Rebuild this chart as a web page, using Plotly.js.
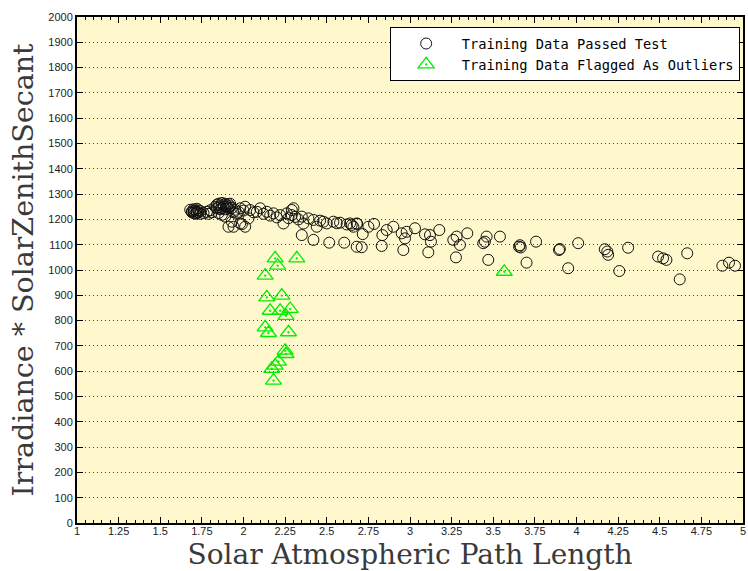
<!DOCTYPE html>
<html>
<head>
<meta charset="utf-8">
<script src="https://cdn.plot.ly/plotly-3.0.1.min.js"></script>
<style>html,body{margin:0;padding:0;background:#fff;}#chart{width:748px;height:571px;}</style>
</head>
<body>
<div id="chart"></div>
<script>
// Training samples that passed the outlier test
const passX = [1.68,1.69,1.69,1.70,1.70,1.70,1.71,1.71,1.72,1.72,1.72,1.73,1.73,1.74,1.74,1.76,1.78,1.79,1.80,1.81,
  1.83,1.84,1.84,1.85,1.85,1.85,1.86,1.86,1.87,1.87,1.87,1.88,1.88,1.89,1.89,1.89,1.90,1.90,1.91,1.91,1.91,1.92,1.92,1.93,1.93,1.94,1.94,
  1.95,1.96,1.97,1.98,1.98,1.99,2.00,2.01,2.01,2.03,2.04,2.06,2.08,2.10,2.12,2.14,2.16,2.18,2.20,2.22,2.24,2.26,2.27,2.29,2.30,2.29,2.31,
  2.33,2.35,2.36,2.35,2.39,2.42,2.42,2.44,2.46,2.48,2.50,2.515,2.54,2.56,2.58,2.605,2.62,2.64,2.65,2.66,2.68,2.683,2.68,2.71,2.716,2.75,
  2.784,2.83,2.834,2.86,2.90,2.95,2.96,2.97,2.98,3.03,3.09,3.11,3.12,3.126,3.176,3.26,3.276,3.28,3.30,3.344,3.44,3.45,3.46,3.47,3.54,
  3.655,3.66,3.665,3.70,3.757,3.895,3.90,3.95,4.01,4.17,4.185,4.19,4.257,4.31,4.49,4.52,4.54,4.62,4.665,4.876,4.916,4.952];
const passY = [1238,1232,1228,1226,1240,1233,1235,1222,1230,1242,1225,1228,1236,1222,1233,1225,1230,1222,1236,1228,
  1250,1258,1245,1262,1248,1225,1255,1240,1265,1244,1218,1258,1250,1262,1240,1211,1255,1248,1260,1243,1171,1252,1262,1245,1191,1228,1171,
  1238,1222,1230,1244,1184,1181,1235,1250,1171,1204,1237,1228,1230,1244,1222,1230,1215,1224,1208,1217,1184,1224,1205,1237,1244,1217,1210,
  1200,1211,1184,1138,1204,1198,1119,1171,1195,1191,1184,1108,1191,1185,1187,1108,1180,1184,1178,1171,1184,1182,1092,1090,1142,1171,
  1182,1095,1138,1158,1171,1145,1079,1125,1151,1165,1141,1070,1138,1112,1158,1119,1050,1132,1099,1145,1106,1112,1132,1040,1132,
  1092,1098,1089,1029,1112,1079,1083,1007,1106,1082,1073,1060,996,1088,1053,1046,1040,963,1066,1017,1029,1017];

// Training samples flagged as outliers
const flagX = [2.19,2.32,2.205,2.13,2.14,2.23,2.16,2.22,2.28,2.255,2.13,2.15,2.27,2.25,2.255,2.21,2.19,2.17,2.18,3.566];
const flagY = [1046,1046,1017,978,892,899,839,839,846,819,773,751,754,681,668,638,622,609,563,993];

const xTickVals = [1,1.25,1.5,1.75,2,2.25,2.5,2.75,3,3.25,3.5,3.75,4,4.25,4.5,4.75,5];

const traces = [
  {
    x: passX, y: passY, type: 'scatter', mode: 'markers',
    name: 'Training Data Passed Test',
    marker: {symbol: 'circle-open', size: 11, color: '#111', line: {width: 1, color: '#111'}}
  },
  {
    x: flagX, y: flagY, type: 'scatter', mode: 'markers',
    name: 'Training Data Flagged As Outliers',
    marker: {symbol: 'triangle-up-open-dot', size: 14, color: '#00ee00', line: {width: 1.3, color: '#00ee00'}}
  }
];

const layout = {
  width: 748, height: 571,
  margin: {l: 77, r: 5, t: 17, b: 48},
  paper_bgcolor: '#ffffff',
  plot_bgcolor: '#fff8cc',
  showlegend: true,
  legend: {
    x: 0.995, xanchor: 'right', y: 0.98, yanchor: 'top',
    bgcolor: '#ffffff', bordercolor: '#000', borderwidth: 1,
    font: {family: 'DejaVu Sans Mono', size: 13.7, color: '#000'},
    itemwidth: 61, tracegroupgap: 0
  },
  xaxis: {
    range: [1, 5], autorange: false,
    tickvals: xTickVals, ticktext: xTickVals.map(String),
    ticks: 'inside', ticklen: 6, tickcolor: '#000', tickwidth: 1,
    ticklabelstandoff: -3,
    minor: {dtick: 0.05, ticks: 'inside', ticklen: 3, tickcolor: '#000', showgrid: false},
    showgrid: false, zeroline: false,
    showline: true, linecolor: '#000', linewidth: 2, mirror: 'ticks',
    tickfont: {family: 'Liberation Sans', size: 11, color: '#222'},
    title: {text: 'Solar Atmospheric Path Length', font: {family: 'DejaVu Serif', size: 28, color: '#3a3a3a'}}
  },
  yaxis: {
    range: [0, 2000], autorange: false, dtick: 100,
    ticks: 'inside', ticklen: 6, tickcolor: '#000', tickwidth: 1,
    showgrid: true, gridcolor: '#444', griddash: '1px,3px', gridwidth: 1,
    zeroline: false,
    showline: true, linecolor: '#000', linewidth: 2, mirror: 'ticks',
    tickfont: {family: 'Liberation Sans', size: 11, color: '#222'},
    title: {text: 'Irradiance * SolarZenithSecant', font: {family: 'DejaVu Serif', size: 28.5, color: '#3a3a3a'}, standoff: 6}
  }
};

Plotly.newPlot('chart', traces, layout, {displayModeBar: false, staticPlot: true});
</script>
</body>
</html>
